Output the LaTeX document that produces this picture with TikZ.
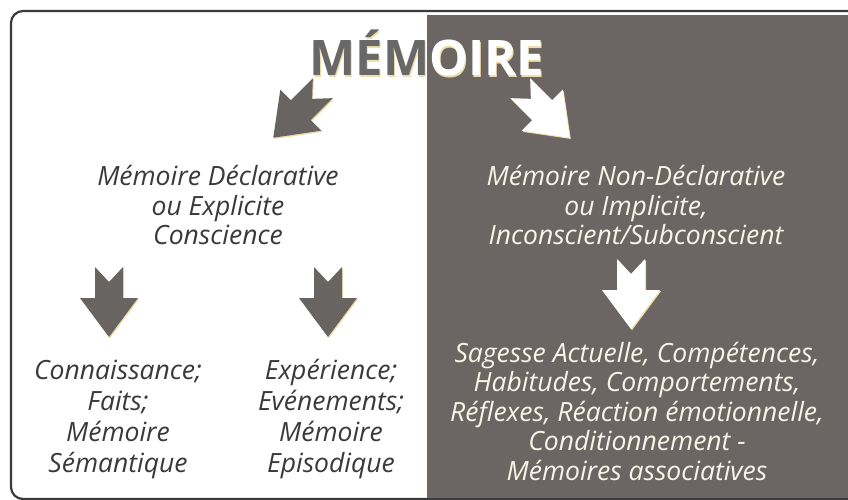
\documentclass[tikz,border=0pt]{standalone}
\usepackage{fontspec}
\usetikzlibrary{calc}
\newfontfamily\bodyfont{Open Sans}
\newfontfamily\titlefont{Open Sans}
\definecolor{panel}{RGB}{107,102,99}
\definecolor{ink}{RGB}{58,58,58}
\definecolor{arrowgray}{RGB}{104,100,98}
\definecolor{titlegray}{RGB}{104,104,104}
\definecolor{cream}{RGB}{250,244,232}
\definecolor{shadowc}{RGB}{238,222,170}
\tikzset{
  blockarrow/.pic={\fill[#1] (-14,-35) -- (0,-20) -- (14,-35) -- (14,-4) -- (29,-4) -- (0,35) -- (-29,-4) -- (-14,-4) -- cycle;},
  bodytext/.style={align=center, inner sep=0pt, font=\bodyfont\itshape\fontsize{26.5}{29.5}\selectfont},
  widetext/.style={bodytext, font=\bodyfont\itshape\fontsize{26.5}{31}\selectfont},
  titletext/.style={inner sep=0pt, font=\titlefont\bfseries\fontsize{49}{49}\selectfont},
}
\begin{document}
\begin{tikzpicture}[x=1pt,y=-1pt]
\useasboundingbox (0,0) rectangle (848,500);
\clip (0,0) rectangle (848,500);
\fill[white] (0,0) rectangle (848,500);
% outer frame
\draw[ink, line width=2.2pt, rounded corners=12pt] (11,11) rectangle (900,499);
% dark panel
\fill[panel] (427,15) rectangle (848,498);

% title, split by the panel edge
\coordinate (tc) at (427,53);
\begin{scope}
  \clip (0,0) rectangle (427,120);
  \node[titletext, text=shadowc] at ($(tc)+(1,1.5)$) {MÉMOIRE};
  \node[titletext, text=titlegray] (title) at (tc) {MÉMOIRE};
\end{scope}
\begin{scope}
  \clip (427,0) rectangle (848,120);
  \node[titletext, text=shadowc] at ($(tc)+(1,1.5)$) {MÉMOIRE};
  \node[titletext, text=white] (titleW) at (tc) {MÉMOIRE};
\end{scope}

% arrows
\coordinate (aDL) at (298,113);
\coordinate (aDR) at (545,113);
\coordinate (aS) at (109,302);
\coordinate (aE) at (328,302);
\coordinate (aA) at (631,294);
\pic[rotate=-45] at ($(aDL)+(1,1.2)$) {blockarrow=shadowc};
\pic[rotate=-45] at (aDL) {blockarrow=arrowgray};
\pic[rotate=45] at ($(aDR)+(1,1.2)$) {blockarrow=shadowc};
\pic[rotate=45] at (aDR) {blockarrow=white};
\pic at ($(aS)+(1,1.2)$) {blockarrow=shadowc};
\pic at (aS) {blockarrow=arrowgray};
\pic at ($(aE)+(1,1.2)$) {blockarrow=shadowc};
\pic at (aE) {blockarrow=arrowgray};
\pic at ($(aA)+(1,1.2)$) {blockarrow=shadowc};
\pic at (aA) {blockarrow=white};

% texts
\node[bodytext, text=ink] (decl) at (218,205) {Mémoire Déclarative\\ou Explicite\\Conscience};
\node[bodytext, text=cream] (nondecl) at (636,205) {Mémoire Non-Déclarative\\ou Implicite,\\Inconscient/Subconscient};
\node[widetext, text=ink] (sem) at (118,419) {Connaissance;\\Faits;\\Mémoire\\Sémantique};
\node[widetext, text=ink] (epi) at (331,419) {Expérience;\\Evénements;\\Mémoire\\Episodique};
\node[bodytext, text=cream] (assoc) at (637,411) {Sagesse Actuelle, Compétences,\\Habitudes, Comportements,\\Réflexes, Réaction émotionnelle,\\Conditionnement -\\Mémoires associatives};
\end{tikzpicture}
\end{document}
